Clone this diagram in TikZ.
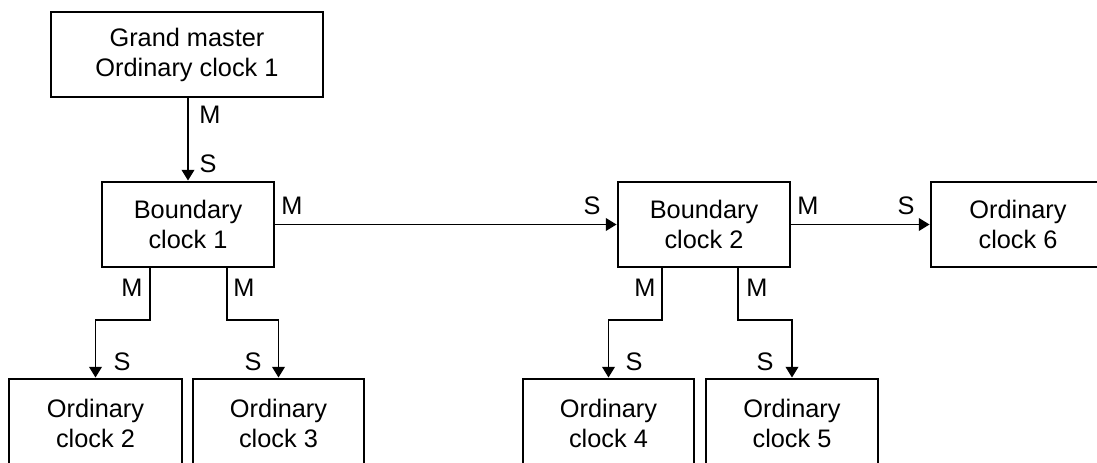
\documentclass[tikz,border=0pt]{standalone}
\usepackage{fontspec}
\setmainfont{Liberation Sans}
\usetikzlibrary{arrows.meta}
\begin{document}
\begin{tikzpicture}[x=0.75pt,y=-0.75pt,
  clockbox/.style={draw, line width=2.2pt, inner sep=0pt, align=center,
    minimum height=63.75pt, font=\fontsize{19}{22.5}\selectfont},
  conn/.style={line width=1.1pt, -{Triangle[length=8pt,width=9.5pt]}},
  port/.style={inner sep=0pt, font=\fontsize{19}{22.5}\selectfont}]
\useasboundingbox (0,0) rectangle (1097,463);
\clip (0,0) rectangle (1097,463);

% clocks
\node[clockbox, minimum width=204pt] (gm) at (187,54.5) {Grand master\\Ordinary clock 1};
\node[clockbox, minimum width=129pt] (bc1) at (188,224.5) {Boundary\\clock 1};
\node[clockbox, minimum width=129pt] (bc2) at (704,224.5) {Boundary\\clock 2};
\node[clockbox, minimum width=130.5pt] (oc6) at (1018,224.5) {Ordinary\\clock 6};
\node[clockbox, minimum width=129.75pt, minimum height=66pt] (oc2) at (95.5,423) {Ordinary\\clock 2};
\node[clockbox, minimum width=128.25pt, minimum height=66pt] (oc3) at (278.5,423) {Ordinary\\clock 3};
\node[clockbox, minimum width=128.25pt, minimum height=66pt] (oc4) at (608.5,423) {Ordinary\\clock 4};
\node[clockbox, minimum width=129pt, minimum height=66pt] (oc5) at (792,423) {Ordinary\\clock 5};

% branch points
\coordinate (lvl) at (0,320);
\coordinate (b1a) at ([xshift=-28.5pt]bc1.south);
\coordinate (b1b) at ([xshift=29.25pt]bc1.south);
\coordinate (b2a) at ([xshift=-31.5pt]bc2.south);
\coordinate (b2b) at ([xshift=25.5pt]bc2.south);

% links
\draw[conn] (gm.south -| bc1.north) -- (bc1.north);
\draw[conn] (bc1.east) -- (bc2.west);
\draw[conn] (bc2.east) -- (oc6.west);
\draw[conn] (b1a) -- (b1a |- lvl) -| (oc2.north);
\draw[conn] (b1b) -- (b1b |- lvl) -| (oc3.north);
\draw[conn] (b2a) -- (b2a |- lvl) -| (oc4.north);
\draw[conn] (b2b) -- (b2b |- lvl) -| (oc5.north);

% port states
\node[port] (m0) at (210,115) {M};
\node[port] (s0) at (208,164) {S};
\node[port] (m1) at (292,206) {M};
\node[port] (s1) at (592,206) {S};
\node[port] (m2) at (808,206) {M};
\node[port] (s2) at (906,206) {S};
\node[port] (m3) at (132,288) {M};
\node[port] (m4) at (244,288) {M};
\node[port] (s3) at (122,362) {S};
\node[port] (s4) at (253,362) {S};
\node[port] (m5) at (645,288) {M};
\node[port] (m6) at (757,288) {M};
\node[port] (s5) at (634,362) {S};
\node[port] (s6) at (765,362) {S};
\end{tikzpicture}
\end{document}
